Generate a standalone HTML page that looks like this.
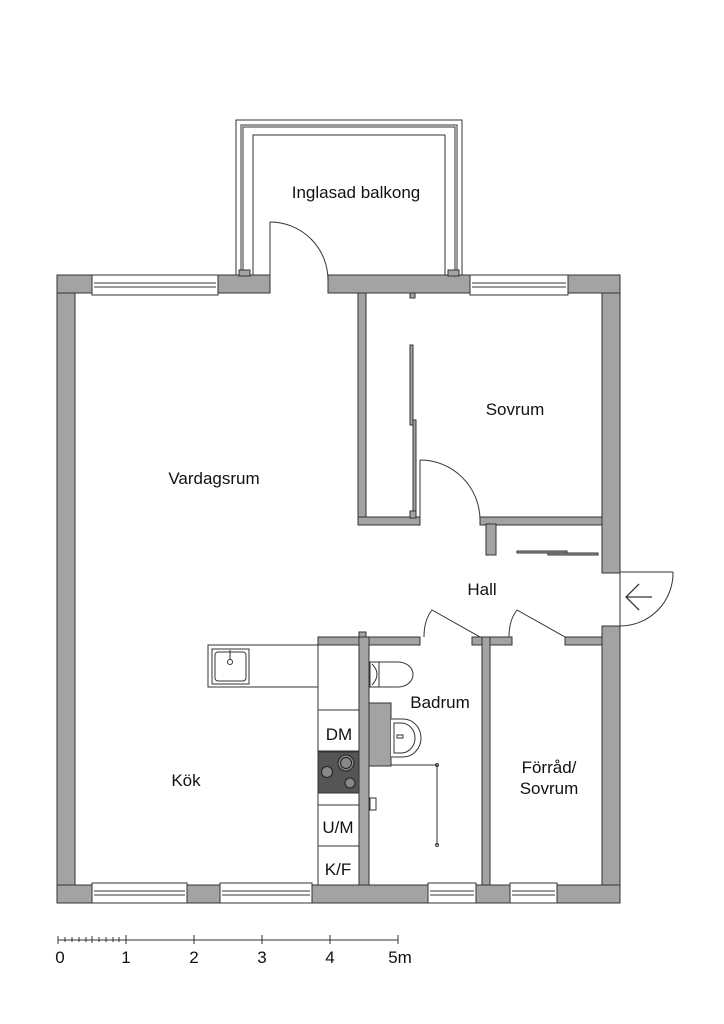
<!DOCTYPE html>
<html><head><meta charset="utf-8"><style>html,body{margin:0;padding:0;background:#fff}svg{display:block}text{font-family:"Liberation Sans",sans-serif;fill:#111}</style></head>
<body>
<svg width="724" height="1024" viewBox="0 0 724 1024" xmlns="http://www.w3.org/2000/svg">
<g fill="#a3a3a3" stroke="#333" stroke-width="1">
<!-- outer walls -->
<rect x="57" y="275" width="18" height="628"/>
<rect x="602" y="275" width="18" height="298"/>
<rect x="602" y="626" width="18" height="277"/>
<rect x="57" y="275" width="213" height="18"/>
<rect x="328" y="275" width="292" height="18"/>
<rect x="57" y="885" width="563" height="18"/>
<!-- sovrum walls -->
<rect x="358" y="293" width="8" height="232"/>
<rect x="358" y="517" width="62" height="8"/>
<rect x="480" y="517" width="122" height="8"/>
<rect x="486" y="524" width="10" height="31"/>
<!-- lower walls -->
<rect x="318" y="637" width="102" height="8"/>
<rect x="359" y="632" width="7" height="6"/>
<rect x="472" y="637" width="40" height="8"/>
<rect x="565" y="637" width="37" height="8"/>
<rect x="359" y="637" width="10" height="248"/>
<rect x="482" y="637" width="8" height="248"/>
<rect x="369" y="703" width="22" height="63"/>
</g>
<g fill="#fff" stroke="#333" stroke-width="1">
<!-- top windows -->
<rect x="92" y="275" width="126" height="20"/><line x1="94" y1="283" x2="216" y2="283"/><line x1="94" y1="287" x2="216" y2="287"/>
<rect x="470" y="275" width="98" height="20"/><line x1="472" y1="283" x2="566" y2="283"/><line x1="472" y1="287" x2="566" y2="287"/>
<!-- bottom windows -->
<rect x="92" y="883" width="95" height="20"/><line x1="94" y1="891" x2="185" y2="891"/><line x1="94" y1="895" x2="185" y2="895"/>
<rect x="220" y="883" width="92" height="20"/><line x1="222" y1="891" x2="310" y2="891"/><line x1="222" y1="895" x2="310" y2="895"/>
<rect x="428" y="883" width="48" height="20"/><line x1="430" y1="891" x2="474" y2="891"/><line x1="430" y1="895" x2="474" y2="895"/>
<rect x="510" y="883" width="47" height="20"/><line x1="512" y1="891" x2="555" y2="891"/><line x1="512" y1="895" x2="555" y2="895"/>
</g>
<!-- balcony -->
<g fill="none" stroke="#333" stroke-width="1">
<path d="M236 275 V120 H462 V275"/>
<path d="M241 272 V125 H457 V272"/>
<path d="M243 272 V127 H455 V272"/>
<path d="M253 275 V135 H445 V275"/>
<rect x="239" y="270" width="11" height="6" fill="#a3a3a3"/>
<rect x="448" y="270" width="11" height="6" fill="#a3a3a3"/>
<!-- balcony door -->
<line x1="270" y1="222" x2="270" y2="293"/>
<path d="M270 222 A58 58 0 0 1 328 280"/>
<!-- sovrum door -->
<line x1="420" y1="460" x2="420" y2="520"/>
<path d="M420 460 A60 60 0 0 1 480 520"/>
<!-- closet sliding -->
<rect x="410" y="345" width="3" height="80" fill="#a3a3a3"/>
<rect x="413" y="420" width="3" height="95" fill="#a3a3a3"/>
<rect x="410" y="293" width="5" height="5" fill="#a3a3a3"/>
<rect x="410" y="511" width="6" height="7" fill="#a3a3a3"/>
<!-- hall sliding -->
<rect x="517" y="551" width="50" height="2" fill="#a3a3a3"/>
<rect x="548" y="553" width="50" height="2" fill="#a3a3a3"/>
<!-- entrance -->
<line x1="620" y1="572" x2="620" y2="626"/>
<line x1="620" y1="572" x2="673" y2="572"/>
<path d="M673 572 A53 53 0 0 1 620 626"/>
<path d="M639 584 L626 597 L639 610 M626 597 H652" stroke-width="1.3"/>
<!-- bath door -->
<path d="M480 637 L432 610 Q424 620 424 637"/>
<!-- förråd door -->
<path d="M565 637 L517 610 Q509 620 509 637"/>
<!-- island -->
<rect x="208" y="645" width="110" height="42" fill="#fff"/>
<rect x="212" y="649" width="37" height="35"/>
<rect x="215" y="652" width="31" height="29" rx="3"/>
<circle cx="230" cy="662" r="2.5"/><line x1="230" y1="650" x2="230" y2="659"/>
<!-- kitchen column -->
<rect x="318" y="645" width="41" height="240" fill="#fff"/>
<line x1="318" y1="710" x2="359" y2="710"/>
<line x1="318" y1="751" x2="359" y2="751"/>
<rect x="318" y="752" width="41" height="41" fill="#555"/>
<line x1="318" y1="805" x2="359" y2="805"/>
<line x1="318" y1="846" x2="359" y2="846"/>
<g fill="#888" stroke="#222"><circle cx="346" cy="763" r="8"/><circle cx="346" cy="763" r="5.5"/><circle cx="327" cy="772" r="5.5"/><circle cx="350" cy="783" r="5"/></g>
<!-- toilet -->
<path d="M370 662 H398 A15 12.5 0 0 1 398 687 H370 Z" fill="#fff"/>
<path d="M372 664 Q382 674 372 685"/><line x1="379" y1="662" x2="379" y2="687"/>
<!-- basin -->
<path d="M391 719 H403 A18 19 0 0 1 403 757 H391" fill="#fff"/>
<path d="M394 723 H401 A14 15 0 0 1 401 753 H394 Z"/>
<rect x="397" y="735" width="6" height="3"/>
<!-- shower rod -->
<path d="M391 765 H437 V845"/>
<circle cx="437" cy="765" r="1.5"/><circle cx="437" cy="845" r="1.5"/>
<rect x="370" y="798" width="6" height="12"/>
<!-- scale bar -->
<line x1="58" y1="940" x2="398" y2="940"/>
<line x1="58" y1="936" x2="58" y2="944"/>
<line x1="126" y1="935" x2="126" y2="944"/><line x1="194" y1="935" x2="194" y2="944"/><line x1="262" y1="935" x2="262" y2="944"/><line x1="330" y1="935" x2="330" y2="944"/><line x1="398" y1="935" x2="398" y2="944"/>
<path d="M65 937V942M72 937V942M79 937V942M86 937V942M92 936V943M99 937V942M106 937V942M113 937V942M119 937V942"/>
</g>
<g font-size="17" text-anchor="middle">
<text x="356" y="198">Inglasad balkong</text>
<text x="214" y="484">Vardagsrum</text>
<text x="515" y="415">Sovrum</text>
<text x="482" y="595">Hall</text>
<text x="440" y="708">Badrum</text>
<text x="186" y="786">Kök</text>
<text x="549" y="773">Förråd/</text>
<text x="549" y="794">Sovrum</text>
<text x="339" y="740">DM</text>
<text x="338" y="833">U/M</text>
<text x="338" y="875">K/F</text>
<text x="60" y="963">0</text>
<text x="126" y="963">1</text>
<text x="194" y="963">2</text>
<text x="262" y="963">3</text>
<text x="330" y="963">4</text>
<text x="400" y="963">5m</text>
</g>
</svg>
</body></html>
